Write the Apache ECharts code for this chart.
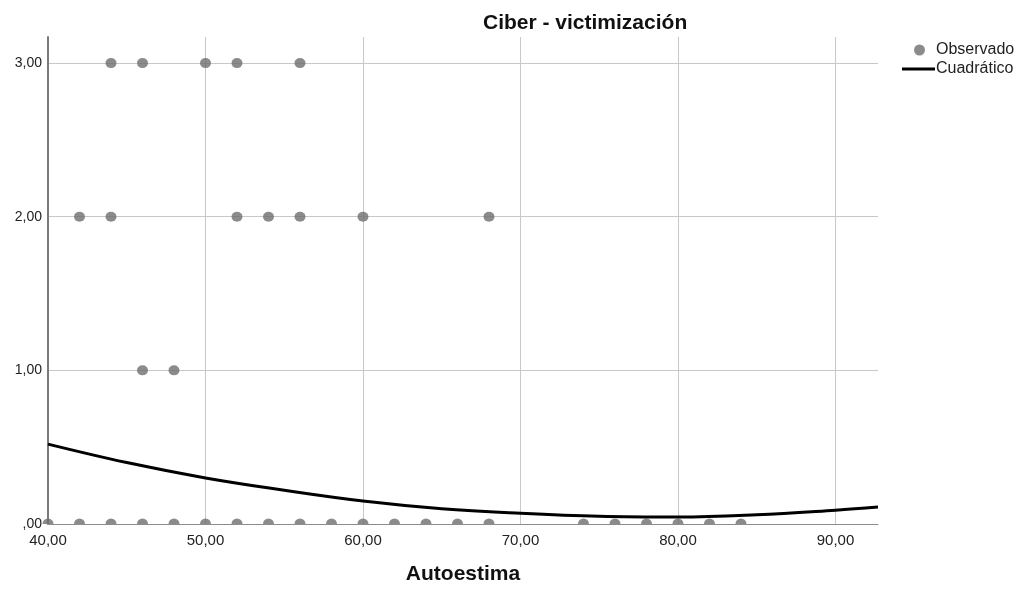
<!DOCTYPE html>
<html>
<head>
<meta charset="utf-8">
<script src="https://cdn.jsdelivr.net/npm/echarts@6/dist/echarts.min.js"></script>
<style>
html,body{margin:0;padding:0;background:#fff;}
#chart{width:1025px;height:590px;}
</style>
</head>
<body>
<div id="chart"></div>
<script>
// Observed points (Autoestima, Ciber - victimización)
var observedX = [44,46,50,52,56, 42,44,52,54,56,60,68, 46,48];
var observedY = [3,3,3,3,3, 2,2,2,2,2,2,2, 1,1];
// Observed points lying on the zero baseline
var zeroX = [40,42,44,46,48,50,52,54,56,58,60,62,64,66,68,74,76,78,80,82,84];
var zeroY = [0,0,0,0,0,0,0,0,0,0,0,0,0,0,0,0,0,0,0,0,0];
// Quadratic fit curve
var fitX = [40,45,50,55,60,65,70,75,80,85,90,92.7];
var fitY = [0.52,0.40,0.30,0.22,0.15,0.10,0.07,0.05,0.045,0.06,0.09,0.11];
var xTicks = [40,50,60,70,80,90];
var yTicks = [0,1,2,3];

var FONT = '"Liberation Sans", Arial, sans-serif';
function pairs(xs, ys){ return xs.map(function(x,i){return [x, ys[i]];}); }
function fmt(v){ var s = v.toFixed(2).replace('.', ','); return v === 0 ? ',00' : s; }

var chart = echarts.init(document.getElementById('chart'), null, {renderer:'canvas'});
chart.setOption({
  animation: false,
  backgroundColor: '#ffffff',
  title: {
    text: 'Ciber - victimización',
    left: 478, top: 8,
    textStyle: {fontFamily: FONT, fontSize: 21, fontWeight: 'bold', color: '#111'}
  },
  legend: [{
    data: [{name: 'Observado', icon: 'circle'}],
    orient: 'vertical', left: 909, top: 37,
    itemWidth: 11, itemHeight: 11, itemGap: 6,
    textStyle: {fontFamily: FONT, fontSize: 16, color: '#222', padding: [0,0,0,6]},
    selectedMode: false
  },{
    data: [{name: 'Cuadrático', icon: 'rect'}],
    orient: 'vertical', left: 897, top: 56,
    itemWidth: 33, itemHeight: 3,
    textStyle: {fontFamily: FONT, fontSize: 16, color: '#222', padding: [0,0,0,-4]},
    selectedMode: false
  }],
  grid: {left: 48, right: 147, top: 37, bottom: 62, containLabel: false},
  xAxis: {
    type: 'value', min: 40, max: 92.7, interval: 10,
    name: 'Autoestima', nameLocation: 'middle', nameGap: 40,
    nameTextStyle: {fontFamily: FONT, fontSize: 21, fontWeight: 'bold', color: '#111'},
    axisLine: {show: true, lineStyle: {color: '#8c8c8c', width: 1}},
    axisTick: {show: false},
    axisLabel: {fontFamily: FONT, fontSize: 15, color: '#222', margin: 9,
      showMaxLabel: false, formatter: function(v){ return fmt(v); }},
    splitLine: {show: true, showMinLine: false, showMaxLine: false, lineStyle: {color: '#c8c8c8', width: 1}}
  },
  yAxis: {
    type: 'value', min: 0, max: 3.17, interval: 1,
    axisLine: {show: true, lineStyle: {color: '#7a7a7a', width: 2}},
    axisTick: {show: false},
    axisLabel: {fontFamily: FONT, fontSize: 14, color: '#222', margin: 6,
      showMaxLabel: false, formatter: function(v){ return fmt(v); }},
    splitLine: {show: true, showMinLine: false, showMaxLine: false, lineStyle: {color: '#c8c8c8', width: 1}}
  },
  series: [{
    name: 'Observado', type: 'scatter',
    data: pairs(observedX, observedY),
    symbol: 'circle', symbolSize: [11, 10],
    itemStyle: {color: '#6e6e6e'}, z: 3
  },{
    name: 'Observado', type: 'scatter',
    data: pairs(zeroX, zeroY),
    symbol: 'path://M0,10 A10,10 0 0 1 20,10 Z', symbolSize: [11, 5.5],
    symbolOffset: [0, '-50%'],
    itemStyle: {color: '#6e6e6e'}, z: 3
  },{
    name: 'Cuadrático', type: 'line',
    data: pairs(fitX, fitY),
    smooth: 0.4, showSymbol: false, symbol: 'none',
    lineStyle: {color: '#000', width: 3},
    itemStyle: {color: '#000'}, z: 4
  }]
});
</script>
</body>
</html>
